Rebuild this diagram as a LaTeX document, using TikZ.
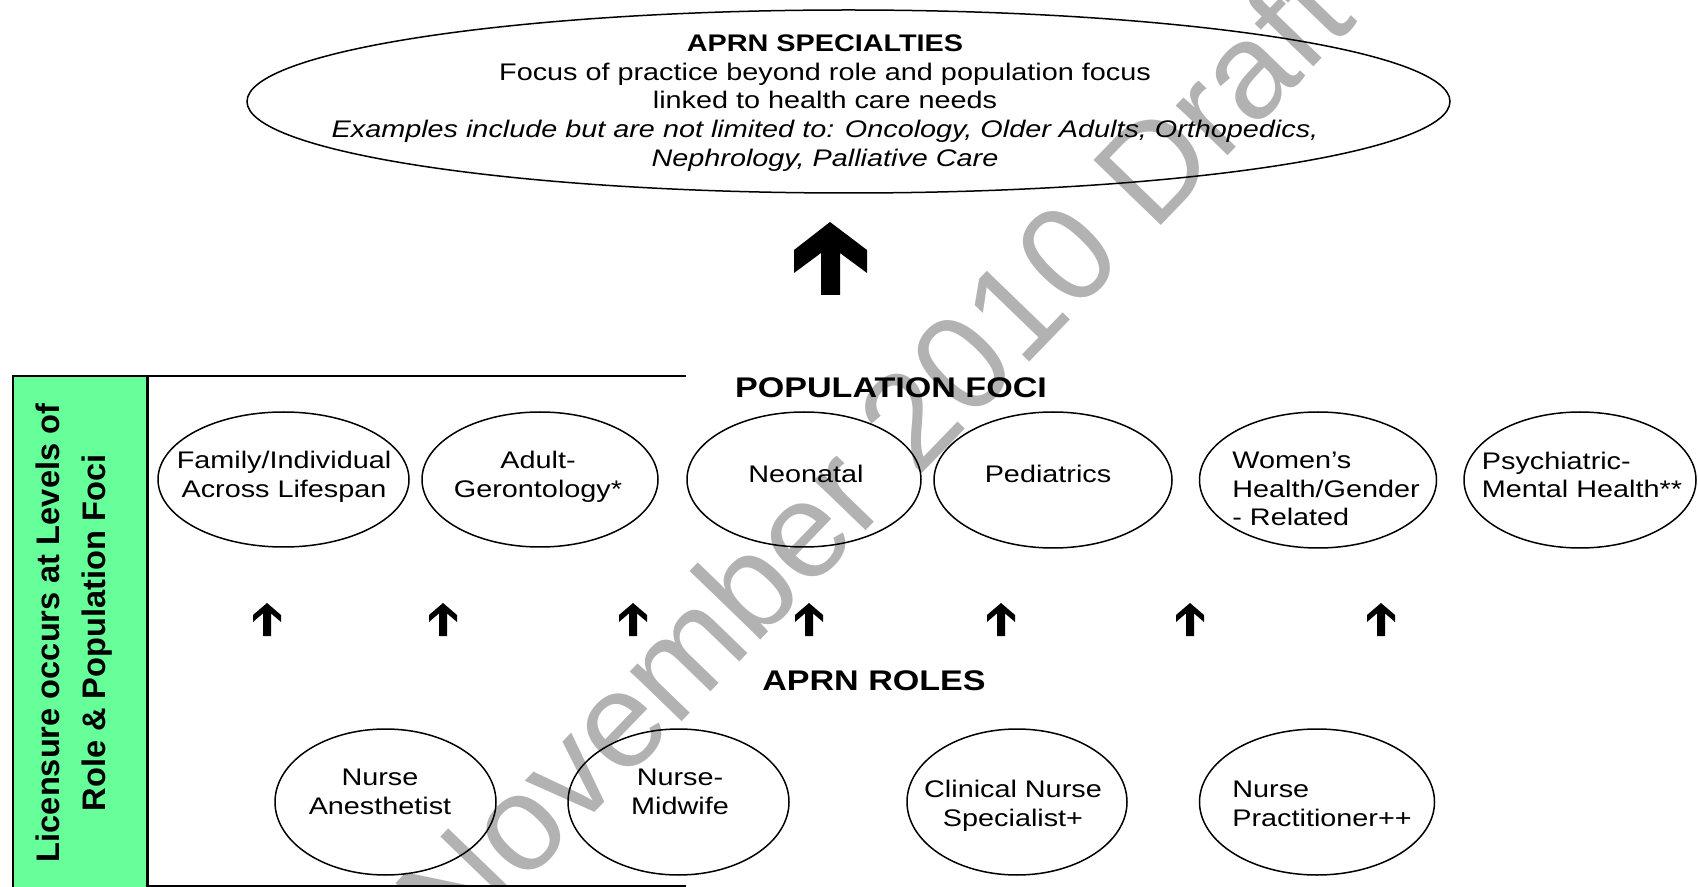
\documentclass[tikz,border=0pt]{standalone}
\usepackage{fontspec}
\newfontfamily\wf[FakeStretch=1.2]{Liberation Sans}
\newfontfamily\vf{Liberation Sans}
\usetikzlibrary{shapes.geometric}
\definecolor{licgreen}{RGB}{102,255,153}
\begin{document}
\begin{tikzpicture}[x=0.5pt,y=-0.5pt,
  oval/.style={ellipse, draw, line width=0.75pt, inner sep=0pt},
  bodytext/.style={font=\wf\fontsize{12}{14.35}\selectfont, inner sep=0pt},
  headfont/.style={font=\wf\bfseries\fontsize{14.2}{17}\selectfont, inner sep=0pt},
  smallup/.pic={\fill (0,0) -- (14,12) -- (14,19) -- (4,10.4) -- (4,33) -- (-4,33) -- (-4,10.4) -- (-14,19) -- (-14,12) -- cycle;},
  bigup/.pic={\fill (0,0) -- (37,28) -- (37,51) -- (10,31) -- (10,73) -- (-9,73) -- (-9,31) -- (-36,51) -- (-36,28) -- cycle;}
]
\useasboundingbox (0,0) rectangle (1698,887);

% watermark
\node[rotate=46, font=\vf\fontsize{68}{80}\selectfont, text=black!30, inner sep=0pt] (wm) at (872,455) {November 2010 Draft};

% top ellipse
\node[oval, minimum width=601.5pt, minimum height=91.5pt] (spec) at (848.5,101.5) {};
\node[bodytext, align=center] (spect) at (825,103) {{\bfseries APRN SPECIALTIES}\\Focus of practice beyond role and population focus\\linked to health care needs\\{\itshape Examples include but are not limited to: Oncology, Older Adults, Orthopedics,}\\{\itshape Nephrology, Palliative Care}};

\pic at (830,222) {bigup};

% licensure box
\node[fill=licgreen, minimum width=67pt, minimum height=260pt, inner sep=0pt, anchor=north west] (lic) at (13,376) {};
\draw[line width=1pt] (lic.south west) -- (lic.north west) -- (686,376);
\draw[line width=1.5pt] (lic.north east) -- (lic.south east);
\draw[line width=0.8pt] (147,886) -- (686,886);
\node[rotate=90, font=\vf\bfseries\fontsize{16.3}{23}\selectfont, align=center, inner sep=0pt] (lict) at (74.5,633) {Licensure occurs at Levels of\\Role \& Population Foci};

% population foci
\node[headfont] (popt) at (891,388) {POPULATION FOCI};
\node[oval, minimum width=125.5pt, minimum height=67.5pt] (fam) at (283.5,479.5) {};
\node[oval, minimum width=118pt, minimum height=67.5pt] (adult) at (540,479.5) {};
\node[oval, minimum width=117pt, minimum height=67.5pt] (neo) at (804,479.5) {};
\node[oval, minimum width=119pt, minimum height=68pt] (ped) at (1053,480) {};
\node[oval, minimum width=118.5pt, minimum height=68pt] (wom) at (1318,480) {};
\node[oval, minimum width=116pt, minimum height=68pt] (psy) at (1580,480) {};
\node[bodytext, align=center] (famt) at (284,477) {Family/Individual\\Across Lifespan};
\node[bodytext, align=center] (adultt) at (538,477) {Adult-\\Gerontology*};
\node[bodytext] (neot) at (806,474) {Neonatal};
\node[bodytext] (pedt) at (1048,474) {Pediatrics};
\node[bodytext, align=left, anchor=west] (womt) at (1232,489) {Women’s\\Health/Gender\\- Related};
\node[bodytext, align=left, anchor=west] (psyt) at (1481.5,475) {Psychiatric-\\Mental Health**};

% small arrows
\foreach \ax in {267,443,633,809,1001,1190,1381}{\pic at (\ax,603) {smallup};}

% roles
\node[headfont] (rolet) at (874,681) {APRN ROLES};
\node[oval, minimum width=110.5pt, minimum height=73pt] (cna) at (385.5,802) {};
\node[oval, minimum width=110.5pt, minimum height=73pt] (cnm) at (678.5,802) {};
\node[oval, minimum width=110pt, minimum height=73pt] (cns) at (1017,802) {};
\node[oval, minimum width=117.5pt, minimum height=73pt] (np) at (1317,802) {};
\node[bodytext, align=center] (cnat) at (380,792) {Nurse\\Anesthetist};
\node[bodytext, align=center] (cnmt) at (680,792) {Nurse-\\Midwife};
\node[bodytext, align=center] (cnst) at (1013,806) {Clinical Nurse\\Specialist+};
\node[bodytext, align=left, anchor=west] (npt) at (1232,803.7) {Nurse\\Practitioner++};
\end{tikzpicture}
\end{document}
